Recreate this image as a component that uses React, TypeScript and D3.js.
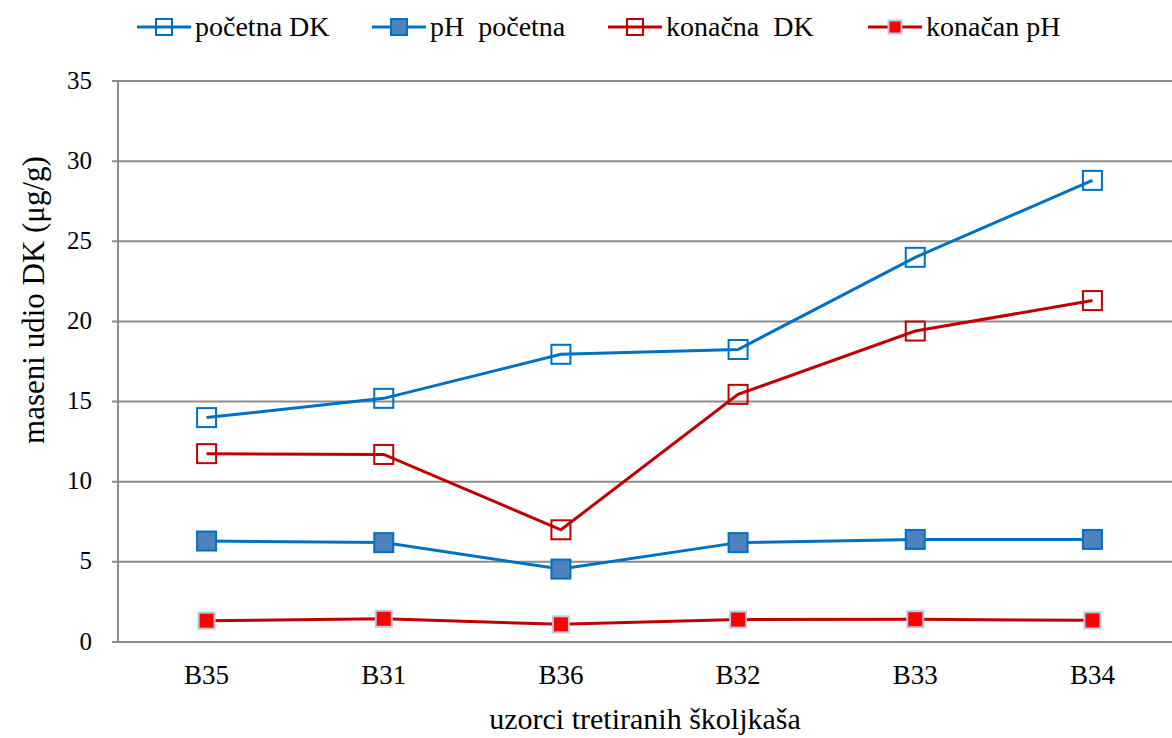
import React from 'react'
import * as d3 from 'd3'

const categories = ['B35', 'B31', 'B36', 'B32', 'B33', 'B34']
const pocetnaDK = [14.0, 15.2, 17.95, 18.25, 24.0, 28.8]
const phPocetna = [6.3, 6.2, 4.55, 6.2, 6.4, 6.4]
const konacnaDK = [11.75, 11.7, 7.0, 15.45, 19.4, 21.3]
const konacanPH = [1.33, 1.45, 1.1, 1.4, 1.42, 1.35]
const yTicks = [0, 5, 10, 15, 20, 25, 30, 35]

interface Series {
  name: string
  values: number[]
  line: string
  fill: string
  stroke: string
  size: number
  legendX: number
}

const series: Series[] = [
  { name: 'početna DK', values: pocetnaDK, line: '#0070c0', fill: 'none', stroke: '#0070c0', size: 19, legendX: 137 },
  { name: 'pH  početna', values: phPocetna, line: '#0070c0', fill: '#4f81bd', stroke: '#0070c0', size: 19, legendX: 372 },
  { name: 'konačna  DK', values: konacnaDK, line: '#c00000', fill: 'none', stroke: '#c00000', size: 19, legendX: 608 },
  { name: 'konačan pH', values: konacanPH, line: '#c00000', fill: '#ff0000', stroke: '#b9c9e2', size: 16, legendX: 868 }
]

const W = 1172
const H = 738
const margin = { top: 81, right: -9, bottom: 96, left: 118 }
const font = '"Liberation Serif", "Times New Roman", serif'

const App: React.FC = () => {
  const x = d3.scaleBand<string>()
    .domain(categories)
    .range([margin.left, W - margin.right])
  const y = d3.scaleLinear()
    .domain([0, 35])
    .range([H - margin.bottom, margin.top])

  const cx = (c: string) => (x(c) || 0) + x.bandwidth() / 2
  const line = d3.line<number>()
    .x((d, i) => cx(categories[i]))
    .y(d => y(d))

  return (
    <svg width={W} height={H} style={{ position: 'absolute', left: 0, top: 0, background: '#fff' }}
      fontFamily={font}>
      {/* grid */}
      {yTicks.map(t => (
        <g key={t}>
          <line x1={margin.left - 6} x2={W} y1={y(t)} y2={y(t)} stroke="#8c8c8c" strokeWidth={2} />
          <text x={margin.left - 26} y={y(t)} dy="0.3em" textAnchor="end" fontSize={25} fill="#000">{t}</text>
        </g>
      ))}
      <line x1={margin.left} x2={margin.left} y1={y(35)} y2={y(0)} stroke="#8c8c8c" strokeWidth={2} />

      {/* category labels */}
      {categories.map(c => (
        <text key={c} x={cx(c)} y={684} textAnchor="middle" fontSize={27} fill="#000">{c}</text>
      ))}

      {/* series */}
      {series.map(s => (
        <g key={s.name}>
          <path d={line(s.values) || ''} fill="none" stroke={s.line} strokeWidth={3} />
          {s.values.map((v, i) => (
            <rect key={i} x={cx(categories[i]) - s.size / 2} y={y(v) - s.size / 2}
              width={s.size} height={s.size} fill={s.fill} stroke={s.stroke} strokeWidth={2} />
          ))}
        </g>
      ))}

      {/* legend */}
      {series.map(s => (
        <g key={s.name} transform={`translate(${s.legendX}, 27)`}>
          <line x1={0} x2={54} y1={0} y2={0} stroke={s.line} strokeWidth={3} />
          <rect x={27 - (s.size - 3) / 2} y={-(s.size - 3) / 2} width={s.size - 3} height={s.size - 3}
            fill={s.fill} stroke={s.stroke} strokeWidth={2} />
          <text x={58} y={0} dy="0.33em" fontSize={28} fill="#000" style={{ whiteSpace: 'pre' }}>{s.name}</text>
        </g>
      ))}

      {/* axis titles */}
      <text transform={`translate(44, 300) rotate(-90)`} textAnchor="middle"
        fontSize={31} fill="#000">maseni udio DK (μg/g)</text>
      <text x={645} y={729} textAnchor="middle" fontSize={30} fill="#000">uzorci tretiranih školjkaša</text>
    </svg>
  )
}

export default App
